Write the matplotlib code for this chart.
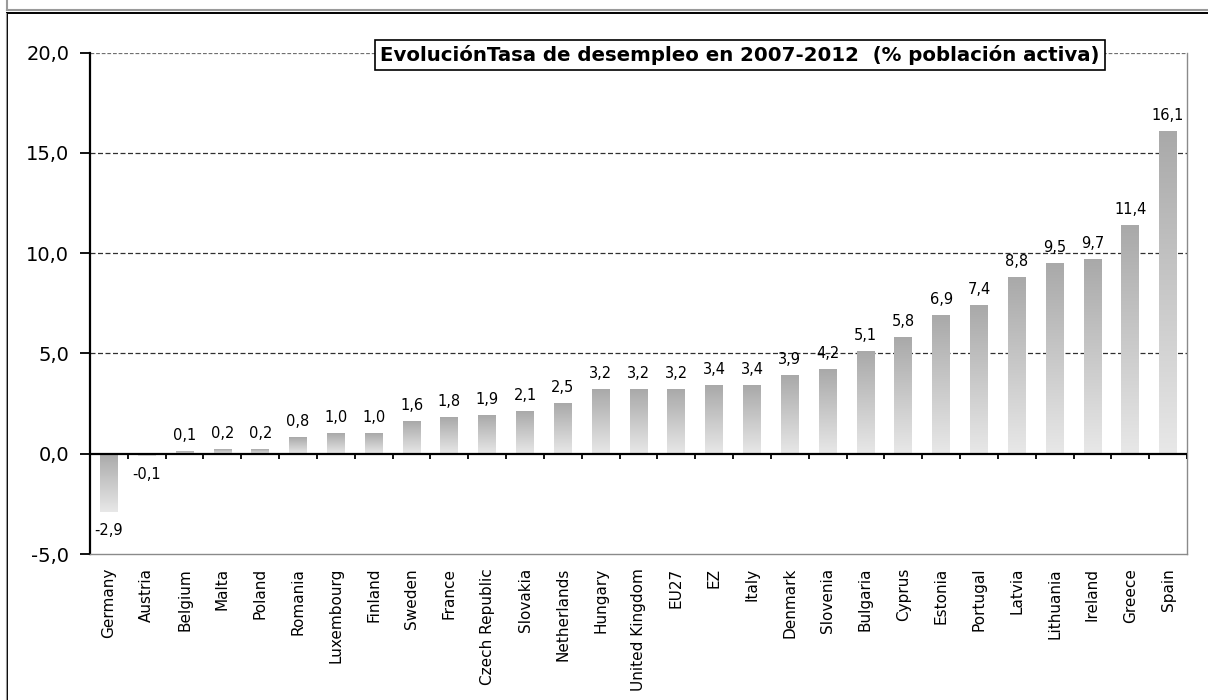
import numpy as np
import matplotlib
matplotlib.use("Agg")
import matplotlib.pyplot as plt
from matplotlib.colors import LinearSegmentedColormap
from matplotlib.lines import Line2D
from matplotlib.ticker import FuncFormatter

plt.rcParams['font.family'] = ['DejaVu Sans']

# Change in unemployment rate 2007-2012, percentage points
countries = [
    "Germany", "Austria", "Belgium", "Malta", "Poland", "Romania",
    "Luxembourg", "Finland", "Sweden", "France", "Czech Republic",
    "Slovakia", "Netherlands", "Hungary", "United Kingdom", "EU27", "EZ",
    "Italy", "Denmark", "Slovenia", "Bulgaria", "Cyprus", "Estonia",
    "Portugal", "Latvia", "Lithuania", "Ireland", "Greece", "Spain",
]
change = [
    -2.9, -0.1, 0.1, 0.2, 0.2, 0.8, 1.0, 1.0, 1.6, 1.8, 1.9, 2.1, 2.5,
    3.2, 3.2, 3.2, 3.4, 3.4, 3.9, 4.2, 5.1, 5.8, 6.9, 7.4, 8.8, 9.5,
    9.7, 11.4, 16.1,
]
y_ticks = [-5, 0, 5, 10, 15, 20]
title = "EvoluciónTasa de desempleo en 2007-2012  (% población activa)"

W, H = 1208, 700
fig = plt.figure(figsize=(W / 100, H / 100), dpi=100, facecolor="white")


def fx(px):
    return px / W


def fy(py):
    return 1 - py / H


# frame lines: bottom edge of the box above, and this chart's box
fig.add_artist(Line2D([fx(7), fx(7)], [fy(0), fy(9.5)], color="#9a9a9a", lw=1.5))
fig.add_artist(Line2D([fx(7), fx(W)], [fy(9.5), fy(9.5)], color="#9a9a9a", lw=1.5))
fig.add_artist(Line2D([fx(7.5), fx(W)], [fy(12.5), fy(12.5)], color="black", lw=1.4))
fig.add_artist(Line2D([fx(7.5), fx(7.5)], [fy(12.5), fy(H)], color="black", lw=1.4))
fig.add_artist(Line2D([fx(6), fx(6)], [fy(12.5), fy(H)], color="#9a9a9a", lw=0.8))

ax = fig.add_axes([fx(90), fy(554), fx(1187) - fx(90), fy(52.7) - fy(554)])
ax.set_facecolor("white")

x = np.arange(len(countries))
ax.set_xlim(-0.5, len(countries) - 0.5)
ax.set_ylim(-5, 20)

# horizontal gridlines
for v in [5, 10, 15]:
    ax.axhline(v, color="#303030", lw=0.9, ls=(0, (4, 2)), zorder=1)
ax.axhline(20, color="#707070", lw=0.9, ls=(0, (3, 1.5)), zorder=1)

# bars with vertical gray gradient (dark at the top, light at the bottom)
cmap = LinearSegmentedColormap.from_list("bar", ["#e8e8e8", "#a9a9a9"])
grad = np.linspace(0, 1, 256).reshape(-1, 1)
bw = 0.47
for xi, v in zip(x, change):
    lo, hi = min(0, v), max(0, v)
    ax.imshow(grad, cmap=cmap, origin="lower", aspect="auto",
              extent=(xi - bw / 2, xi + bw / 2, lo, hi), zorder=2,
              interpolation="bilinear")
    lbl = f"{v:.1f}".replace(".", ",")
    if v >= 0:
        ax.annotate(lbl, (xi, v), xytext=(0, 6), textcoords="offset points",
                    ha="center", va="bottom", fontsize=10.5, zorder=5)
    else:
        ax.annotate(lbl, (xi, v), xytext=(0, -8), textcoords="offset points",
                    ha="center", va="top", fontsize=10.5, zorder=5)

# zero line with ticks between categories
ax.axhline(0, color="black", lw=1.6, zorder=4)
ax.vlines(x + 0.5, -0.27, 0, color="black", lw=1.3, zorder=4)

# spines
ax.spines["top"].set_visible(False)
ax.spines["left"].set_color("black")
ax.spines["left"].set_linewidth(1.6)
ax.spines["right"].set_color("#8a8a8a")
ax.spines["right"].set_linewidth(1.0)
ax.spines["bottom"].set_color("#8a8a8a")
ax.spines["bottom"].set_linewidth(1.0)
ax.spines["bottom"].set_linestyle((0, (3, 1)))

ax.set_yticks(y_ticks)
ax.yaxis.set_major_formatter(FuncFormatter(lambda v, p: f"{v:.1f}".replace(".", ",")))
ax.tick_params(axis="y", direction="out", length=7, width=1.3, color="black",
               labelsize=14, pad=8)

ax.set_xticks(x)
ax.set_xticklabels(countries, rotation=90, fontsize=11)
ax.tick_params(axis="x", length=0, pad=10)

ax.text(0.5925, 0.995, title, transform=ax.transAxes, ha="center", va="center",
        fontsize=14.2, fontweight="bold", zorder=6,
        bbox=dict(boxstyle="square,pad=0.25", fc="white", ec="black", lw=1.2))

fig.savefig("out.png", dpi=100, facecolor="white")
